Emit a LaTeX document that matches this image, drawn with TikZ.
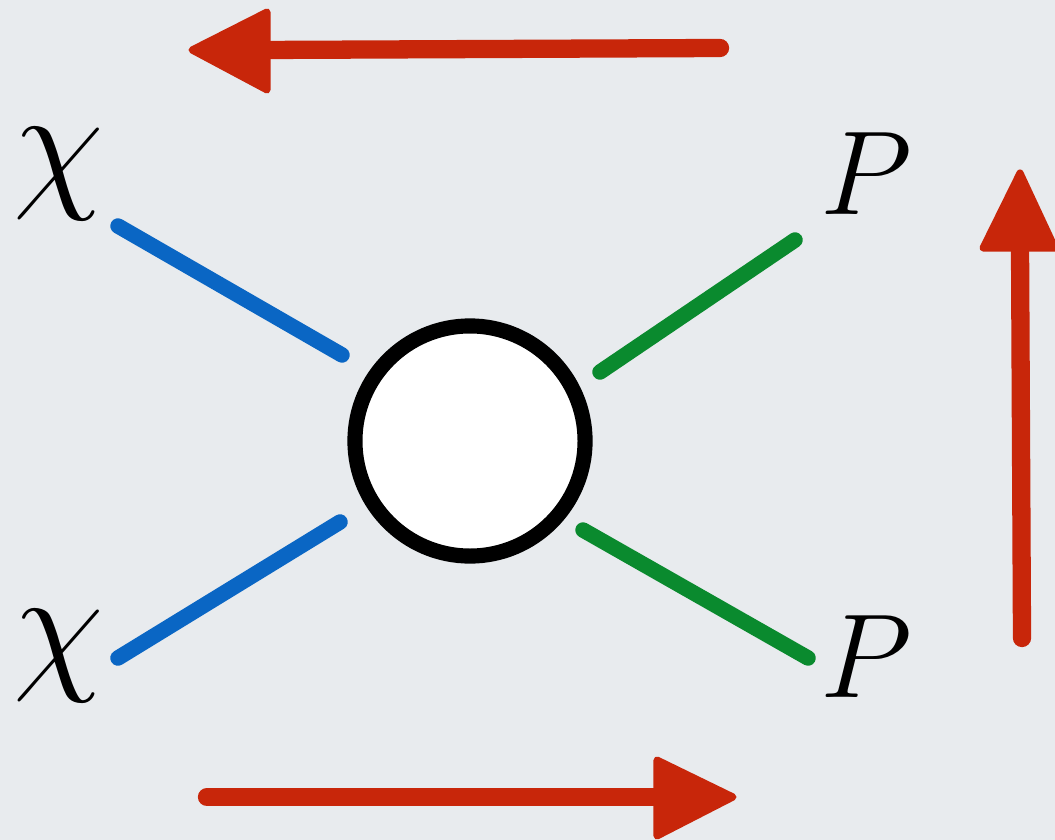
\documentclass[tikz,border=0pt]{standalone}
\usepackage{fix-cm}
\usetikzlibrary{calc}
\definecolor{bg}{HTML}{E8EBEE}
\definecolor{arrred}{HTML}{C8260A}
\definecolor{lblue}{HTML}{0A66C4}
\definecolor{lgreen}{HTML}{0A8A2E}
\begin{document}
\begin{tikzpicture}[x=0.01cm,y=-0.01cm,
  brush/.style={line width=4.4pt,line cap=round},
  shaft/.style={arrred,line width=5.2pt,line cap=round},
  head/.style={fill=arrred,draw=arrred,line width=2pt,line join=round},
  lbl/.style={inner sep=0pt}]
\fill[bg] (0,0) rectangle (1055,840);
\useasboundingbox (0,0) rectangle (1055,840);
% vertex
\node[circle,draw=black,fill=white,line width=4.3pt,minimum size=2.3cm] (v) at (470,441) {};
% labels
\node[lbl] (x1) at (59,174) {\fontsize{42}{50}\selectfont$\chi$};
\node[lbl] (x2) at (59,656) {\fontsize{42}{50}\selectfont$\chi$};
\node[lbl] (p1) at (866,174) {\fontsize{34}{40}\selectfont$P$};
\node[lbl] (p2) at (866,657) {\fontsize{34}{40}\selectfont$P$};
% legs
\coordinate (a1) at (118,226); \coordinate (a2) at (342,355);
\coordinate (b1) at (118,658); \coordinate (b2) at (340,522);
\coordinate (c1) at (600,372); \coordinate (c2) at (795,240);
\coordinate (d1) at (583,530); \coordinate (d2) at (808,658);
\draw[brush,lblue] (a1) -- (a2);
\draw[brush,lblue] (b1) -- (b2);
\draw[brush,lgreen] (c1) -- (c2);
\draw[brush,lgreen] (d1) -- (d2);
% top arrow
\coordinate (t0) at (720,48); \coordinate (t1) at (262,50);
\draw[shaft] (t0) -- (t1);
\filldraw[head] (192,50) -- (267,12) -- (267,90) -- cycle;
% bottom arrow
\coordinate (u0) at (207,797); \coordinate (u1) at (662,797);
\draw[shaft] (u0) -- (u1);
\filldraw[head] (733,797) -- (657,760) -- (657,836) -- cycle;
% right arrow
\coordinate (r0) at (1022,638); \coordinate (r1) at (1020,246);
\draw[shaft] (r0) -- (r1);
\filldraw[head] (1020,173) -- (983,248) -- (1055,248) -- cycle;
\end{tikzpicture}
\end{document}
